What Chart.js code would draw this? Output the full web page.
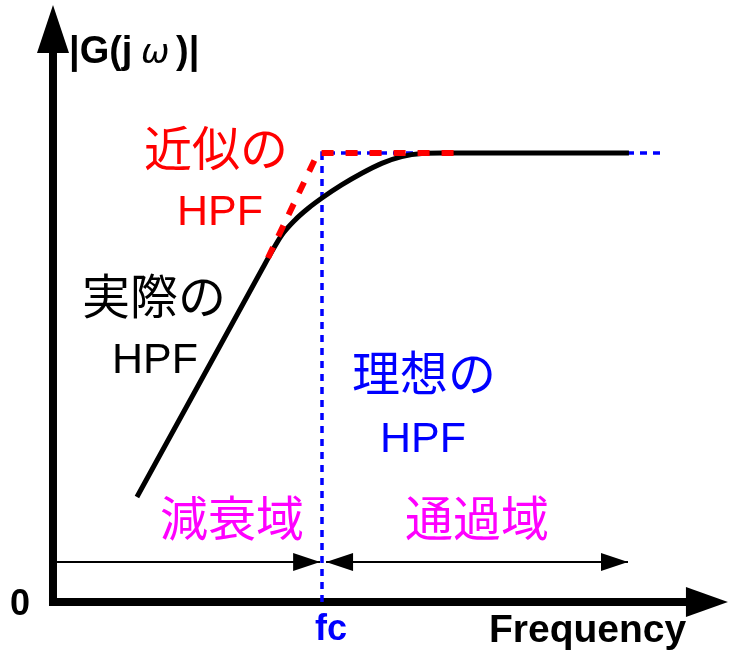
<!DOCTYPE html>
<html>
<head>
<meta charset="utf-8">
<script src="https://cdn.jsdelivr.net/npm/chart.js@4"></script>
<style>
  html, body { margin: 0; padding: 0; background: #fff; }
  #wrap { width: 729px; height: 651px; }
</style>
</head>
<body>
<div id="wrap"><canvas id="hpfChart" width="729" height="651"></canvas></div>
<script>
// HPF 특성 그림 (x: f/fc, y: |G(jw)|)

// 실제 HPF
const actualX = [0.312, 0.546, 0.777, 0.813, 0.850, 0.900, 0.949, 1.005, 1.073, 1.148, 1.222, 1.296, 1.371, 1.445, 2.141];
const actualY = [0.234, 0.489, 0.741, 0.780, 0.817, 0.851, 0.877, 0.902, 0.929, 0.955, 0.977, 0.992, 0.999, 1.0, 1.0];
// 근사 HPF
const approxX = [0.799, 0.985, 1.494];
const approxY = [0.766, 1.0, 1.0];
// 이상 HPF
const idealX = [1.0, 1.0, 2.275];
const idealY = [0.0, 1.0, 1.0];

// 대역 화살표
const bandNames = ['減衰域', '通過域'];
const bandStart = [0.015, 1.015];
const bandEnd = [0.993, 2.1375];
const bandLevel = 0.089;

// 축 눈금
const xTickValues = [1.0];
const xTickLabels = ['fc'];
const yTickValues = [0.0];
const yTickLabels = ['0'];

const xAxisEnd = 2.509;
const yAxisEnd = 1.3296;

const toPoints = (xs, ys) => xs.map((x, i) => ({ x: x, y: ys[i] }));

function arrowHead(ctx, tipX, tipY, dirX, dirY, len, half) {
    const bx = tipX - dirX * len, by = tipY - dirY * len;
    ctx.beginPath();
    ctx.moveTo(tipX, tipY);
    ctx.lineTo(bx - dirY * half, by + dirX * half);
    ctx.lineTo(bx + dirY * half, by - dirX * half);
    ctx.closePath();
    ctx.fill();
}

const decorPlugin = {
    id: 'decor',
    beforeDatasetsDraw(chart) {
        const ctx = chart.ctx;
        const xs = chart.scales.x, ys = chart.scales.y;
        const ox = xs.getPixelForValue(0), oy = ys.getPixelForValue(0);
        ctx.save();
        ctx.fillStyle = '#000';
        ctx.strokeStyle = '#000';

        // 축
        const xTip = xs.getPixelForValue(xAxisEnd);
        const yTip = ys.getPixelForValue(yAxisEnd);
        ctx.lineWidth = 8;
        ctx.beginPath();
        ctx.moveTo(ox, oy + 4);
        ctx.lineTo(ox, yTip + 45);
        ctx.stroke();
        ctx.beginPath();
        ctx.moveTo(ox - 4, oy);
        ctx.lineTo(xTip - 40, oy);
        ctx.stroke();
        arrowHead(ctx, ox, yTip, 0, -1, 48, 16);
        arrowHead(ctx, xTip, oy, 1, 0, 42, 15);

        // 대역 화살표
        const by = ys.getPixelForValue(bandLevel);
        ctx.lineWidth = 2;
        bandNames.forEach((name, i) => {
            const x1 = xs.getPixelForValue(bandStart[i]);
            const x2 = xs.getPixelForValue(bandEnd[i]);
            ctx.beginPath();
            ctx.moveTo(x1, by);
            ctx.lineTo(x2, by);
            ctx.stroke();
            arrowHead(ctx, x2, by, 1, 0, 27, 9);
            if (i > 0) arrowHead(ctx, x1, by, -1, 0, 27, 9);
        });
        ctx.restore();
    },
    afterDatasetsDraw(chart) {
        const ctx = chart.ctx;
        const xs = chart.scales.x, ys = chart.scales.y;
        ctx.save();

        // 눈금 라벨
        ctx.textAlign = 'center';
        ctx.textBaseline = 'alphabetic';
        ctx.fillStyle = '#0000ff';
        ctx.font = 'bold 36px "Liberation Sans", Arial, sans-serif';
        xTickValues.forEach((v, i) => ctx.fillText(xTickLabels[i], xs.getPixelForValue(v) + 9, 640));
        ctx.fillStyle = '#000';
        ctx.font = 'bold 36px "Liberation Sans", Arial, sans-serif';
        yTickValues.forEach((v, i) => ctx.fillText(yTickLabels[i], 20, ys.getPixelForValue(v) + 13));

        // 축 제목
        ctx.textAlign = 'left';
        ctx.font = 'bold 39px "Liberation Sans", Arial, sans-serif';
        ctx.fillText('Frequency', 489, 642);
        ctx.font = 'bold 38px "Liberation Sans", Arial, sans-serif';
        ctx.fillText('|G(j', 69, 63);
        ctx.font = 'italic 34px "DejaVu Sans", sans-serif';
        ctx.fillText('ω', 141, 63);
        ctx.font = 'bold 38px "Liberation Sans", Arial, sans-serif';
        ctx.fillText(')|', 176, 63);

        // 설명 라벨
        const jp = '48px "Noto Sans CJK JP", sans-serif';
        const en = '43px "Liberation Sans", Arial, sans-serif';
        const labels = [
            ['近似の', 216, 148, '#ff0000', jp, 'middle'],
            ['HPF', 220, 225, '#ff0000', en, 'alphabetic'],
            ['実際の', 154, 296, '#000000', jp, 'middle'],
            ['HPF', 155, 373, '#000000', en, 'alphabetic'],
            ['理想の', 424, 373, '#0000ff', jp, 'middle'],
            ['HPF', 423, 452, '#0000ff', en, 'alphabetic'],
            [bandNames[0], 232, 518, '#ff00ff', jp, 'middle'],
            [bandNames[1], 477, 518, '#ff00ff', jp, 'middle']
        ];
        ctx.textAlign = 'center';
        labels.forEach(l => {
            ctx.fillStyle = l[3];
            ctx.font = l[4];
            ctx.textBaseline = l[5];
            ctx.fillText(l[0], l[1], l[2]);
        });
        ctx.restore();
    }
};

const chart = new Chart(document.getElementById('hpfChart'), {
    type: 'scatter',
    data: {
        datasets: [{
            label: '近似のHPF',
            data: toPoints(approxX, approxY),
            showLine: true,
            borderColor: '#ff0000',
            borderWidth: 6,
            borderDash: [12, 12],
            pointRadius: 0,
            tension: 0,
            order: 1
        }, {
            label: '実際のHPF',
            data: toPoints(actualX, actualY),
            showLine: true,
            borderColor: '#000000',
            borderWidth: 5,
            pointRadius: 0,
            cubicInterpolationMode: 'monotone',
            order: 2
        }, {
            label: '理想のHPF',
            data: toPoints(idealX, idealY),
            showLine: true,
            borderColor: '#0000ff',
            borderWidth: 3.5,
            borderDash: [7, 6],
            pointRadius: 0,
            tension: 0,
            order: 3
        }]
    },
    options: {
        responsive: false,
        animation: false,
        layout: { padding: 0 },
        plugins: { legend: { display: false }, tooltip: { enabled: false } },
        scales: {
            x: { type: 'linear', min: -0.197, max: 2.513, display: false },
            y: { type: 'linear', min: -0.1091, max: 1.3408, display: false }
        }
    },
    plugins: [decorPlugin]
});
</script>
</body>
</html>
